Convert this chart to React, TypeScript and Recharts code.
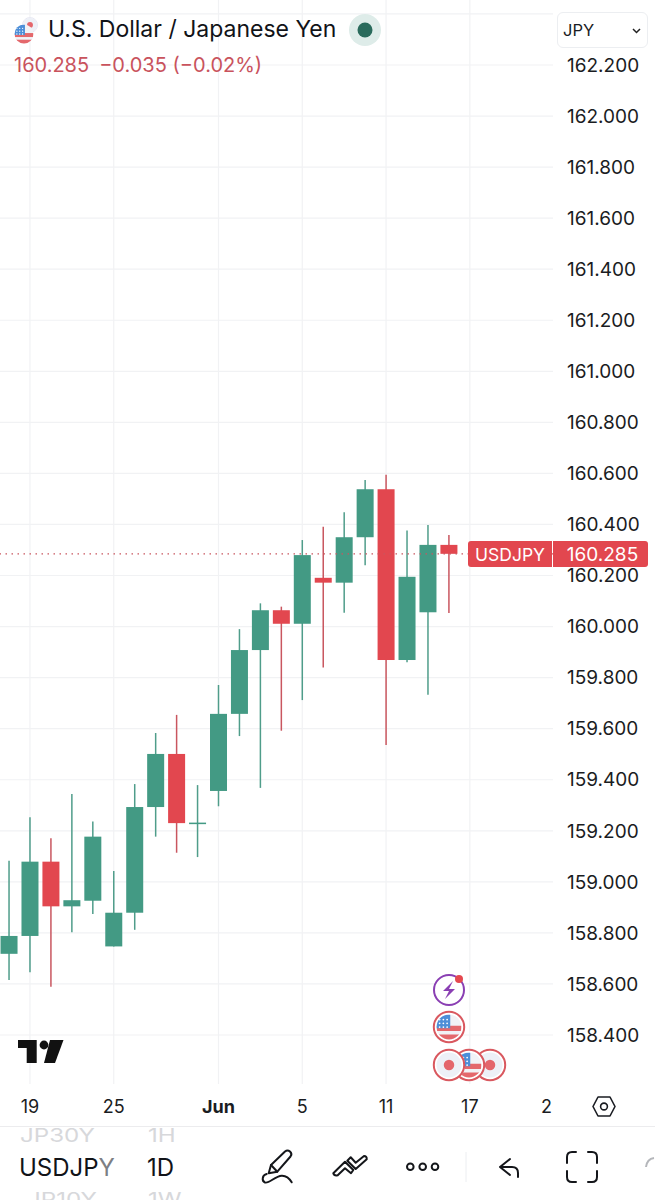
import React from 'react';
import { ComposedChart, Bar, XAxis, YAxis, CartesianGrid, ReferenceLine } from 'recharts';

const opens = [158.718, 158.788, 159.079, 158.904, 158.926, 158.747, 158.879, 159.293, 159.501, 159.226, 159.356, 159.658, 159.908, 160.064, 160.011, 160.191, 160.172, 160.35, 160.538, 159.869, 160.056, 160.32];
const highs = [159.083, 159.253, 159.171, 159.344, 159.236, 159.042, 159.383, 159.583, 159.654, 159.379, 159.771, 159.99, 160.091, 160.078, 160.339, 160.391, 160.448, 160.574, 160.595, 160.376, 160.398, 160.359];
const lows = [158.615, 158.646, 158.589, 158.802, 158.874, 158.747, 158.812, 159.177, 159.114, 159.097, 159.296, 159.571, 159.368, 159.592, 159.712, 159.84, 160.054, 160.24, 159.536, 159.86, 159.733, 160.053];
const closes = [158.788, 159.079, 158.904, 158.928, 159.177, 158.879, 159.293, 159.501, 159.23, 159.232, 159.658, 159.908, 160.064, 160.011, 160.28, 160.172, 160.35, 160.538, 159.869, 160.195, 160.32, 160.285];
const priceTicks = [158.4, 158.6, 158.8, 159, 159.2, 159.4, 159.6, 159.8, 160, 160.2, 160.4, 160.6, 160.8, 161, 161.2, 161.4, 161.6, 161.8, 162, 162.2];
const gridPrices = [...priceTicks, 162.4]; // 162.400 has a line, its label sits under the JPY select
const dayTicks = [1, 5, 10, 14, 18, 22, 25.66];
const dayLabels = ['19', '25', 'Jun', '5', '11', '17', '2'];
const gridDays = [1, 5, 10, 14, 18, 22]; // the last tick has no line
const lastPrice = 160.285;

const GREEN = '#439a84';
const RED = '#e2474f';

const candles = opens.map((open, i) => ({
  slot: i,
  open,
  close: closes[i],
  high: highs[i],
  low: lows[i],
  range: [lows[i], highs[i]],
}));

// body is worked out from the wick's pixel height, so it stays on the axis scale
const Candle = (props: any) => {
  const { x, y, width, height, payload } = props;
  const perUnit = Math.abs(height) / (payload.high - payload.low);
  const up = payload.close >= payload.open;
  const top = y + (payload.high - Math.max(payload.open, payload.close)) * perUnit;
  const h = Math.max(Math.abs(payload.open - payload.close) * perUnit, 1.5);
  const mid = x + width / 2;
  return (
    <g>
      <line x1={mid} x2={mid} y1={y} y2={y + Math.abs(height)} stroke={up ? '#4f9d8a' : '#c9565f'} strokeWidth={1.5} />
      <rect x={x} y={top} width={width} height={h} fill={up ? GREEN : RED} />
    </g>
  );
};

const DayTick = (props: any) => {
  const { x, payload } = props;
  const label = dayLabels[dayTicks.indexOf(payload.value)];
  return (
    <text x={x} y={1113} textAnchor="middle" fontSize={18} fontFamily="Inter" fontWeight={label === 'Jun' ? 700 : 400} fill="#1a1c22">
      {label}
    </text>
  );
};

const FlagDisc = ({ cx, cy, r }: { cx: number; cy: number; r: number }) => {
  const id = `flag${cx}${cy}`;
  return (
    <g>
      <clipPath id={id}><circle cx={cx} cy={cy} r={r} /></clipPath>
      <g clipPath={`url(#${id})`}>
        <rect x={cx - r} y={cy - r} width={2 * r} height={2 * r} fill="#f1f2f6" />
        <rect x={cx - r} y={cy - r * 0.1} width={2 * r} height={r * 0.42} fill="#e4686c" />
        <rect x={cx - r} y={cy + r * 0.6} width={2 * r} height={r * 0.5} fill="#e4686c" />
        <rect x={cx - r} y={cy - r} width={r * 1.1} height={r * 1.1} fill="#4c8ed8" />
        {[0.25, 0.55, 0.85].map((a) => [0.25, 0.55, 0.85].map((b) => (
          <circle key={`${a}${b}`} cx={cx - r + a * r} cy={cy - r + 0.15 * r + b * r} r={r * 0.07} fill="#fff" />
        )))}
      </g>
    </g>
  );
};

const JpDisc = ({ cx, cy, r }: { cx: number; cy: number; r: number }) => (
  <g>
    <circle cx={cx} cy={cy} r={r} fill="#edf0f7" />
    <circle cx={cx} cy={cy} r={r * 0.42} fill="#e4666c" />
  </g>
);

const Ring = ({ cx, cy, children }: { cx: number; cy: number; children: React.ReactNode }) => (
  <g>
    <circle cx={cx} cy={cy} r={16} fill="#fff" />
    {children}
    <circle cx={cx} cy={cy} r={15.2} fill="none" stroke="#d9585f" strokeWidth={2} />
  </g>
);

const Overlay = () => (
  <svg width={655} height={1200} style={{ position: 'absolute', left: 0, top: 0, pointerEvents: 'none' }}>
    {/* header flag */}
    <JpDisc cx={30} cy={25} r={7} />
    <circle cx={30} cy={25} r={7.5} fill="none" stroke="#e8e9f4" strokeWidth={1} />
    <FlagDisc cx={24} cy={34} r={9.5} />
    {/* live dot */}
    <circle cx={365} cy={30} r={16} fill="#deece9" />
    <circle cx={365} cy={30} r={7.5} fill="#2a6b5c" />
    {/* select chevron */}
    <path d="M633 29 l3.5 3.5 l3.5 -3.5" fill="none" stroke="#222" strokeWidth={1.5} />

    {/* trading view logo */}
    <path d="M18 1040 H36.7 V1063 H26.7 V1048 H18 z" fill="#111" />
    <circle cx={44} cy={1045} r={4.4} fill="#111" />
    <path d="M50 1040 H63.5 L55 1063 H44 z" fill="#111" />

    {/* event markers */}
    <circle cx={449} cy={990} r={15} fill="#fff" stroke="#8a3fb3" strokeWidth={2} />
    <path d="M453 981 l-10 10 h6 l-4 8 l10 -10 h-6 z" fill="#8a3fb3" />
    <circle cx={459} cy={979} r={4} fill="#e5484f" />
    <Ring cx={449} cy={1027}><FlagDisc cx={449} cy={1027} r={12.5} /></Ring>
    <Ring cx={490} cy={1065}><JpDisc cx={490} cy={1065} r={12.5} /></Ring>
    <Ring cx={469} cy={1065}><FlagDisc cx={469} cy={1065} r={12.5} /></Ring>
    <Ring cx={449} cy={1065}><JpDisc cx={449} cy={1065} r={12.5} /></Ring>

    {/* settings hexagon */}
    <path d="M598 1097 H610 L615 1106.5 L610 1116 H598 L593 1106.5 z" fill="none" stroke="#1a1c22" strokeWidth={1.6} strokeLinejoin="round" />
    <circle cx={604} cy={1106.5} r={3.4} fill="none" stroke="#1a1c22" strokeWidth={1.6} />

    {/* toolbar */}
    <g fill="none" stroke="#14161a" strokeWidth={2} strokeLinecap="round" strokeLinejoin="round">
      <path d="M268.7 1173.3 L271 1165 L285 1151.5 Q287.5 1149.5 290 1151.5 Q292.5 1154 290.5 1156.5 L277.3 1171.7 z" />
      <path d="M271 1165 L277.3 1171.7" />
      <path d="M266.7 1174 C262 1175 261.5 1181 265 1182.5 C269 1184 275 1176 281.7 1175.7 C286 1175.5 289.5 1178.5 291.7 1182.3" />
      <path d="M333.3 1173.3 L345 1161.7 L353.3 1170 L351 1173.3 L345 1168.3 L337.7 1175.3 Q334 1176 333.3 1173.3 z" />
      <path d="M347.3 1160.7 L355.7 1169 L366.7 1159.3 Q367 1156 364 1156 L355.7 1162.7 L350.7 1157.3 z" />
      <circle cx={410.3} cy={1166.7} r={3.3} />
      <circle cx={422.7} cy={1166.7} r={3.3} />
      <circle cx={435} cy={1166.7} r={3.3} />
      <path d="M510 1159 l-10 8 l10 8 M500 1167 h12 q6 0 6 6 v4" />
      <path d="M567 1163 v-6 q0 -5 5 -5 h4 M588 1152 h4 q5 0 5 5 v6 M597 1171 v6 q0 5 -5 5 h-4 M576 1182 h-4 q-5 0 -5 -5 v-6" />
    </g>
    <path d="M466 1152 v30" stroke="#eceef1" strokeWidth={1} />
    <path d="M654 1158 q-7 1 -8 9" fill="none" stroke="#b5b7bb" strokeWidth={2} />
  </svg>
);

const textAt = (left: number, top: number, extra: React.CSSProperties): React.CSSProperties => ({
  position: 'absolute',
  left,
  top,
  whiteSpace: 'nowrap',
  lineHeight: 1,
  ...extra,
});

// the wheel pickers at the bottom stretch the faded rows sideways
const faded: React.CSSProperties = { fontSize: 19, color: '#d7d8db', transform: 'scaleX(1.27)', transformOrigin: 'left center' };

export default function App() {
  return (
    <div style={{ position: 'absolute', left: 0, top: 0, width: 655, height: 1200, overflow: 'hidden', background: '#fff', fontFamily: 'Inter' }}>
      <ComposedChart width={655} height={1127} data={candles} margin={{ top: 0, right: 0, bottom: 0, left: 0 }}>
        <CartesianGrid stroke="#f1f2f4" strokeWidth={1.2} verticalValues={gridDays} horizontalValues={gridPrices} />
        <XAxis
          dataKey="slot"
          type="number"
          domain={[-0.43, 25.97]}
          allowDataOverflow
          ticks={dayTicks}
          interval={0}
          height={43}
          axisLine={false}
          tickLine={false}
          tick={<DayTick />}
        />
        <YAxis
          orientation="right"
          domain={[158.208, 162.4546]}
          allowDataOverflow
          ticks={priceTicks}
          interval={0}
          width={102}
          axisLine={false}
          tickLine={false}
          tickMargin={8}
          tick={{ fontSize: 19, fontFamily: 'Inter', fill: '#1a1c22' }}
          tickFormatter={(v: number) => v.toFixed(3)}
        />
        <ReferenceLine y={lastPrice} stroke="#c9565f" strokeWidth={1.3} strokeDasharray="1.5 4.5" />
        <Bar dataKey="range" barSize={17} shape={<Candle />} isAnimationActive={false} />
      </ComposedChart>

      <div style={{ position: 'absolute', left: 0, top: 1126, width: 655, height: 1, background: '#ececee' }} />

      <div style={textAt(48, 18, { fontSize: 23, color: '#111318' })}>U.S. Dollar / Japanese Yen</div>
      <div style={textAt(14, 55, { fontSize: 20, color: '#c9535d' })}>160.285{'\u2002'}−0.035 (−0.02%)</div>
      <div style={{ position: 'absolute', left: 557, top: 12, width: 91, height: 36, border: '1px solid #eceef1', borderRadius: 6, boxSizing: 'border-box', background: '#fff' }} />
      <div style={textAt(563, 22, { fontSize: 16.5, color: '#1a1c22' })}>JPY</div>

      <div style={{ position: 'absolute', left: 468, top: 541, width: 84, height: 26, background: RED, borderRadius: '3px 0 0 3px', color: '#fff', fontSize: 17.5, lineHeight: '27px', textAlign: 'center' }}>USDJPY</div>
      <div style={{ position: 'absolute', left: 553, top: 541, width: 95, height: 26, background: RED, borderRadius: '0 3px 3px 0', color: '#fff', fontSize: 19, lineHeight: '27px', textAlign: 'center', paddingLeft: 4, boxSizing: 'border-box' }}>160.285</div>

      <div style={textAt(20, 1126, faded)}>JP30Y</div>
      <div style={textAt(148, 1126, faded)}>1H</div>
      <div style={textAt(19, 1156, { fontSize: 24, color: '#111318' })}>USDJP<span style={{ color: '#7d7f84' }}>Y</span></div>
      <div style={textAt(147, 1156, { fontSize: 24, color: '#111318' })}>1D</div>
      <div style={textAt(27, 1190, faded)}>JP10Y</div>
      <div style={textAt(148, 1190, faded)}>1W</div>

      <Overlay />
    </div>
  );
}
